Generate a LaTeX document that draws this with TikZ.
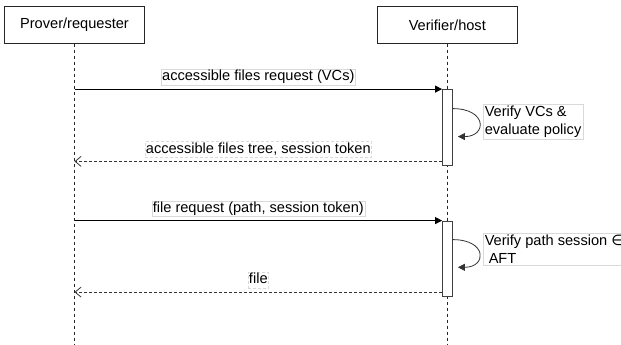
\documentclass[tikz,border=0pt]{standalone}
\usepackage{fontspec}
\setmainfont{Liberation Sans}
\newfontfamily\symfont{DejaVu Sans}
\usetikzlibrary{arrows.meta,calc}
\begin{document}
\begin{tikzpicture}[x=1pt,y=-1pt,
  every node/.style={font=\fontsize{14.6}{17.6}\selectfont},
  actor/.style={draw=black!85, line width=0.8pt, minimum width=139.6pt, minimum height=36.6pt, inner sep=0pt, fill=white},
  lifeline/.style={draw=black!85, line width=0.7pt, dash pattern=on 3pt off 3pt},
  bar/.style={draw=black!75, fill=white, line width=0.8pt, minimum width=9.6pt, inner sep=0pt},
  msg/.style={draw=black, line width=0.9pt, -{Triangle[length=7pt,width=7pt]}},
  loopline/.style={draw=black!80, line width=0.8pt, -{Triangle[length=7pt,width=7pt]}},
  reply/.style={draw=black!80, line width=0.8pt, dash pattern=on 3pt off 2pt, -{Straight Barb[length=6pt,width=10pt]}},
  lbl/.style={fill=white, draw=black!15, line width=0.5pt, inner xsep=1pt, inner ysep=0.5pt, text height=11pt, text depth=3.5pt},
  note/.style={fill=white, draw=black!15, line width=0.5pt, inner xsep=1.5pt, inner ysep=2pt, align=left, anchor=north west},
]
\useasboundingbox[fill=white] (0,0) rectangle (621,345);

\node[actor] (A) at (74.5,25) {Prover/requester};
\node[actor] (B) at (447.3,25) {Verifier/host};
\coordinate (Aend) at (74.5,345);
\coordinate (Bend) at (447.3,345);
\draw[lifeline] (A.south) -- (Aend);
\draw[lifeline] (B.south) -- (Bend);

\node[bar, minimum height=75.5pt] (bar1) at (447.3,127.25) {};
\node[bar, minimum height=75pt] (bar2) at (447.3,258.5) {};

% first exchange
\coordinate (m1s) at (A.south |- bar1.north);
\draw[msg] (m1s) -- (bar1.north west)
  node[midway, lbl, above=4pt] (t1) {accessible files request (VCs)};

\coordinate (l1s) at ($(bar1.north east)+(0,19.5)$);
\coordinate (l1e) at ($(bar1.north east)+(5.4,47.5)$);
\draw[loopline] (l1s) .. controls +(35,0) and +(29,0) .. (l1e);
\node[note] (n1) at (483,104) {Verify VCs \&\\evaluate policy};

\coordinate (r1s) at ($(bar1.south west)+(0,-4)$);
\coordinate (r1e) at (A.south |- r1s);
\draw[reply] (r1s) -- (r1e)
  node[midway, lbl, above=4pt] (t2) {accessible files tree, session token};

% second exchange
\coordinate (m2s) at (A.south |- bar2.north);
\draw[msg] (m2s) -- (bar2.north west)
  node[midway, lbl, above=4pt] (t3) {file request (path, session token)};

\coordinate (l2s) at ($(bar2.north east)+(0,19)$);
\coordinate (l2e) at ($(bar2.north east)+(5.4,46.7)$);
\draw[loopline] (l2s) .. controls +(35,0) and +(29,0) .. (l2e);
\node[note] (n2) at (483,232.7) {Verify path session {\symfont ∈}\\\hspace{4pt}AFT};

\coordinate (r2s) at ($(bar2.south west)+(0,-4.3)$);
\coordinate (r2e) at (A.south |- r2s);
\draw[reply] (r2s) -- (r2e)
  node[midway, lbl, above=4pt] (t4) {file};
\end{tikzpicture}
\end{document}
